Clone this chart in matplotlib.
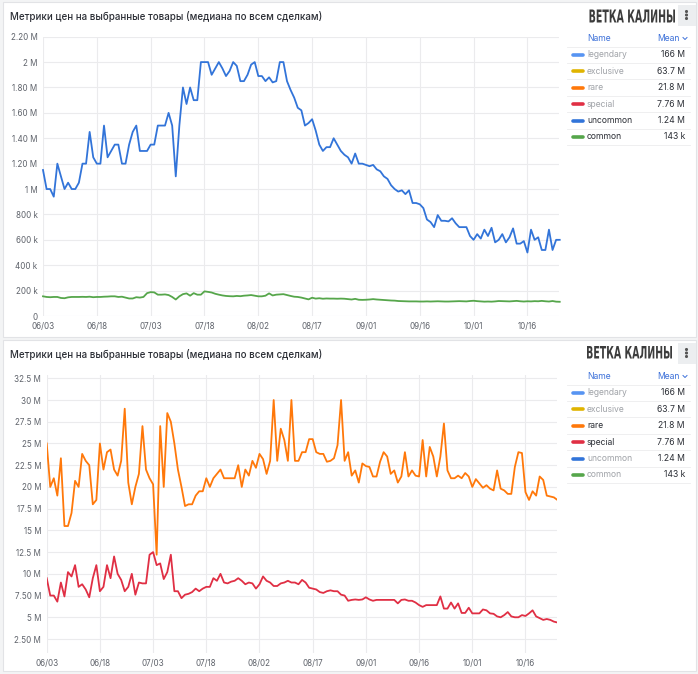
import matplotlib.pyplot as plt
import matplotlib.patches as patches
from matplotlib.textpath import TextPath
from matplotlib.font_manager import FontProperties
from matplotlib.transforms import Affine2D
import numpy as np

W, H = 698, 674
plt.rcParams['font.family'] = ['Inter', 'DejaVu Sans']

# ---- data (daily medians, 06/03 .. 10/25) ----
uncommon = [  # millions
    1.15, 1.0, 1.0, 0.94, 1.2, 1.1, 1.0, 1.05, 1.0, 1.0,
    1.05, 1.2, 1.2, 1.45, 1.25, 1.2, 1.2, 1.5, 1.25, 1.3,
    1.35, 1.35, 1.2, 1.2, 1.35, 1.45, 1.5, 1.3, 1.3, 1.3,
    1.35, 1.35, 1.5, 1.5, 1.5, 1.6, 1.5, 1.1, 1.5, 1.8,
    1.67, 1.8, 1.7, 1.7, 2.0, 2.0, 2.0, 1.9, 1.95, 2.0,
    1.95, 1.89, 1.93, 2.0, 1.97, 1.85, 1.85, 1.9, 1.98, 2.0,
    1.89, 1.89, 1.85, 1.88, 1.84, 1.85, 2.0, 2.0, 1.85, 1.78,
    1.72, 1.64, 1.62, 1.50, 1.52, 1.55, 1.46, 1.35, 1.30, 1.33,
    1.33, 1.40, 1.35, 1.30, 1.27, 1.25, 1.20, 1.28, 1.20, 1.20,
    1.19, 1.18, 1.19, 1.155, 1.14, 1.10, 1.08, 1.03, 1.0, 0.98,
    0.99, 0.96, 0.99, 0.89, 0.89, 0.88, 0.85, 0.76, 0.74, 0.70,
    0.795, 0.75, 0.75, 0.745, 0.77, 0.73, 0.70, 0.70, 0.70, 0.63,
    0.60, 0.645, 0.61, 0.68, 0.63, 0.695, 0.58, 0.60, 0.645, 0.58,
    0.62, 0.69, 0.57, 0.57, 0.59, 0.50, 0.68, 0.60, 0.62, 0.52,
    0.52, 0.68, 0.52, 0.60, 0.60,
]
common = [  # thousands
    155, 150, 148, 150, 150, 142, 140, 147, 150, 150,
    150, 151, 150, 152, 148, 150, 150, 152, 153, 155,
    155, 150, 152, 145, 138, 138, 148, 145, 150, 180,
    188, 186, 168, 168, 170, 165, 150, 130, 155, 172,
    178, 160, 180, 168, 168, 194, 190, 185, 175, 168,
    162, 158, 156, 155, 158, 156, 160, 162, 165, 160,
    155, 155, 160, 178, 162, 168, 170, 172, 165, 158,
    152, 150, 145, 138, 131, 144, 137, 140, 136, 138,
    137, 137, 136, 137, 136, 133, 130, 135, 128, 127,
    128, 130, 133, 130, 128, 126, 124, 122, 121, 118,
    117, 116, 115, 115, 115, 114, 114, 115, 114, 115,
    116, 115, 114, 114, 115, 116, 117, 116, 115, 118,
    120, 117, 115, 113, 114, 113, 115, 118, 117, 116,
    115, 117, 119, 116, 114, 116, 115, 117, 116, 119,
    116, 114, 118, 113, 112,
]
rare = [  # millions
    25, 20, 21, 19, 23.3, 15.5, 15.5, 17, 20.7, 20,
    23.8, 23, 22.5, 18, 18.5, 25, 22, 24, 24.3, 22,
    21.3, 23, 29, 20.5, 18, 20, 21.5, 27, 22, 21,
    20.3, 12.2, 27, 20, 28.5, 27.5, 25, 22, 20, 17.8,
    18, 18, 19, 19.5, 19.5, 21, 20, 21, 21.5, 22,
    21, 21, 21, 21, 22.5, 20, 22, 21.3, 23, 22.2,
    23.8, 23.2, 21.5, 23, 30, 23, 26.7, 25.4, 23, 30,
    23, 23, 24, 24, 25.5, 25.5, 24, 23.8, 23.8, 22.9,
    23, 23.3, 24.8, 30, 23, 24, 21.3, 21.9, 20.5, 22.7,
    22.4, 22.3, 21.2, 21.2, 22.9, 24, 23.5, 21.5, 21.9, 20.5,
    21.2, 24, 21.2, 21.9, 21.3, 21.2, 25.4, 21.2, 24.6, 23.5,
    21.2, 23.5, 27.3, 21.9, 21, 21, 21.3, 21, 21.6, 21.2,
    20, 20.9, 20.4, 19.9, 20.2, 19.8, 19.6, 21.9, 19.8, 19.6,
    19.2, 19.2, 22.3, 24, 23.9, 19.4, 18.5, 19.5, 19, 21.2,
    20.8, 19, 18.9, 18.8, 18.5,
]
special = [  # millions
    9.5, 7.5, 7.5, 6.8, 9, 7.4, 10.2, 9.7, 11, 8.5,
    8.8, 8.2, 7.3, 9.5, 11, 8, 8.5, 11, 9.5, 12,
    10, 9.3, 8, 8.5, 10, 7.6, 9, 8.9, 8.9, 12.2,
    12.5, 11, 11.2, 9.4, 10.2, 12.2, 8, 8, 7.2, 7.6,
    7.7, 7.9, 8.3, 8, 8.3, 8.5, 8.5, 9.5, 9.2, 10,
    9, 8.9, 9.1, 9.2, 9.5, 9.2, 8.8, 9, 8.9, 8.3,
    8.8, 9.7, 9.2, 9, 8.6, 8.6, 8.9, 9, 9.2, 9,
    9, 8.8, 9.3, 9, 8.4, 8.3, 8.2, 7.9, 7.8, 8,
    8.1, 8, 8, 7.6, 7.5, 6.9, 7, 7.05, 7, 7.05,
    7.3, 7.05, 6.9, 7, 7, 7, 7, 7, 7, 6.6,
    7, 7.05, 6.9, 6.9, 6.7, 6.4, 6.2, 6.4, 6.4, 6.4,
    6.4, 7.4, 6, 6, 6.7, 6, 6.6, 5.5, 5.5, 6.1,
    5.45, 5.45, 5.45, 5.9, 5.8, 5.45, 5.4, 5.1, 5, 5.25,
    5.6, 5.1, 5, 5, 5.25, 5.15, 5.45, 5.8, 5.1, 4.9,
    4.7, 4.8, 4.7, 4.5, 4.4,
]

names = ['legendary', 'exclusive', 'rare', 'special', 'uncommon', 'common']
means = ['166 M', '63.7 M', '21.8 M', '7.76 M', '1.24 M', '143 k']
colors = ['#5794F2', '#E0B400', '#FF780A', '#E02F44', '#3274D9', '#56A64B']

x_ticks = [0, 15, 30, 45, 60, 75, 90, 105, 120, 135]
x_labels = ['06/03', '06/18', '07/03', '07/18', '08/02', '08/17', '09/01', '09/16', '10/01', '10/16']
top_yticks = [0, 0.2, 0.4, 0.6, 0.8, 1.0, 1.2, 1.4, 1.6, 1.8, 2.0, 2.2]
top_ylabels = ['0', '200 k', '400 k', '600 k', '800 k', '1 M', '1.20 M', '1.40 M', '1.60 M', '1.80 M', '2 M', '2.20 M']
bot_yticks = [2.5, 5, 7.5, 10, 12.5, 15, 17.5, 20, 22.5, 25, 27.5, 30, 32.5]
bot_ylabels = ['2.50 M', '5 M', '7.50 M', '10 M', '12.5 M', '15 M', '17.5 M', '20 M', '22.5 M', '25 M', '27.5 M', '30 M', '32.5 M']

title = 'Метрики цен на выбранные товары (медиана по всем сделкам)'
brand = 'ВЕТКА КАЛИНЫ'

TXT = '#2c2f36'
GREY = '#5f636b'
DIM = '#a0a3a8'
BLUE = '#3d71d9'
LEG_FS = 6.2


def box(x0, y0, x1, y1):
    return [x0 / W, 1 - y1 / H, (x1 - x0) / W, (y1 - y0) / H]


fig = plt.figure(figsize=(W / 100, H / 100), dpi=100)
fig.patch.set_facecolor('#f3f4f5')

bg = fig.add_axes([0, 0, 1, 1], zorder=0)
bg.set_xlim(0, W)
bg.set_ylim(H, 0)
bg.axis('off')


def draw_brand(x0, y0, x1, y1):
    # stretch the bold caps into the logo's box
    tp = TextPath((0, 0), brand, size=10, prop=FontProperties(family='DejaVu Sans', weight='bold'))
    ext = tp.get_extents()
    sx = (x1 - x0) / ext.width
    sy = (y1 - y0) / ext.height
    tr = Affine2D().translate(-ext.x0, -ext.y0).scale(sx, -sy).translate(x0, y1)
    bg.add_patch(patches.PathPatch(tr.transform_path(tp), facecolor='#3c3c3c', edgecolor='none'))


def draw_panel(py, ph, logo, active):
    bg.add_patch(patches.Rectangle((2.5, py), 693.5, ph, facecolor='white', edgecolor='#e2e3e6', lw=0.8))
    bg.text(10, py + 14, title, fontsize=7.0, color=TXT, va='center', fontweight='medium')
    draw_brand(*logo)
    # menu button
    bg.add_patch(patches.Rectangle((678, py + 2.5), 18, 21, facecolor='#eceef0', edgecolor='none'))
    for dy in (-3.5, 0, 3.5):
        bg.add_patch(patches.Circle((686.5, py + 13 + dy), 0.85, color='#555'))
    # legend table
    yh = py + 36.5
    bg.text(587, yh, 'Name', fontsize=LEG_FS, color=BLUE, va='center')
    bg.text(680, yh, 'Mean', fontsize=LEG_FS, color=BLUE, va='center', ha='right')
    bg.plot([683, 685, 687], [yh - 1, yh + 1, yh - 1], color=BLUE, lw=0.7)
    bg.plot([567, 690], [yh + 8, yh + 8], color='#ececee', lw=0.6)
    for i, (n, m, c) in enumerate(zip(names, means, colors)):
        y = yh + 16.4 * (i + 1)
        bg.plot([573, 583], [y, y], color=c, lw=2.6, solid_capstyle='round')
        bg.text(587, y, n, fontsize=LEG_FS, color=TXT if n in active else DIM, va='center')
        bg.text(685, y, m, fontsize=LEG_FS, color=TXT, va='center', ha='right')
        bg.plot([567, 690], [y + 8, y + 8], color='#ececee', lw=0.6)


def style_axis(ax, yt, yl, ylim):
    ax.set_facecolor('none')
    ax.set_xlim(0, 143.8)
    ax.set_ylim(*ylim)
    ax.set_xticks(x_ticks)
    ax.set_xticklabels(x_labels)
    ax.set_yticks(yt)
    ax.set_yticklabels(yl)
    ax.tick_params(length=0, labelsize=5.8, colors=GREY, pad=4)
    ax.grid(color='#ebebed', lw=0.8)
    ax.set_axisbelow(True)
    for s in ax.spines.values():
        s.set_visible(False)


draw_panel(2, 335, (589.5, 9.5, 675, 22.5), ['uncommon', 'common'])
draw_panel(340, 331, (587, 346, 672, 358.5), ['rare', 'special'])

days = np.arange(len(uncommon))

ax1 = fig.add_axes(box(43, 36.7, 559, 316), zorder=1)
style_axis(ax1, top_yticks, top_ylabels, (0, 2.2))
ax1.plot(days, uncommon, color=colors[4], lw=1.3, solid_joinstyle='round', clip_on=False)
ax1.plot(days, np.array(common) / 1000, color=colors[5], lw=1.3, solid_joinstyle='round', clip_on=False)

ax2 = fig.add_axes(box(46.7, 375, 556.7, 653), zorder=1)
style_axis(ax2, bot_yticks, bot_ylabels, (0.89, 32.88))
ax2.plot(days, rare, color=colors[2], lw=1.3, solid_joinstyle='round')
ax2.plot(days, special, color=colors[3], lw=1.3, solid_joinstyle='round')

fig.savefig('out.png', dpi=100, facecolor=fig.get_facecolor())
